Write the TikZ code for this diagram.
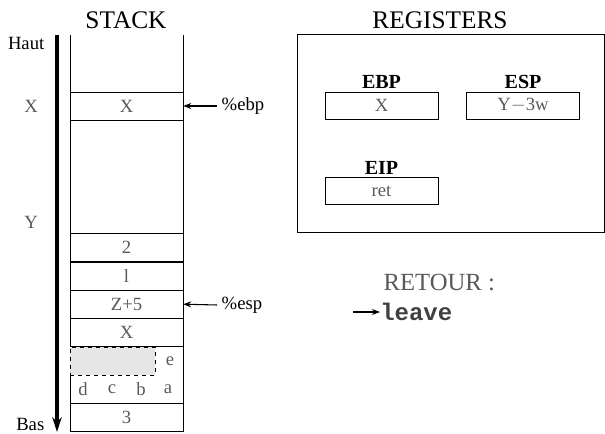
\documentclass[tikz,border=0pt]{standalone}
\usepackage{fontspec}
\setmainfont{Liberation Serif}
\setmonofont{Liberation Mono}
\usetikzlibrary{positioning, arrows.meta}
\tikzset{
    x=0.75pt, y=-0.75pt, % one unit is one pixel, y grows downwards
    cell/.style={draw, minimum width=84.75pt, minimum height=21.2pt, inner sep=0pt,
                 text=black!65, font=\fontsize{14}{16}\selectfont}, % a word of the stack
    reg/.style={cell, minimum height=20.3pt}, % a register box
    title/.style={font=\fontsize{19}{21}\selectfont}, % headings
    lab/.style={font=\fontsize{14}{16}\selectfont}, % side labels
    dim/.style={text=black!65, font=\fontsize{14}{16}\selectfont}, % gray side values
    ptr/.style={{Stealth[length=6pt,width=4.5pt]}-, line width=0.8pt}, % register pointers
}

\begin{document}
\begin{tikzpicture}
    \useasboundingbox (0,0) rectangle (605,434);
    \node[title] at (126,20) {STACK};
    \node[title] at (440,20) {REGISTERS};

    % growth arrow
    \coordinate (top) at (57,35);
    \coordinate (bot) at (57,432);
    \draw[line width=2.4pt, -{Stealth[length=11pt,width=7pt]}] (top) -- (bot);
    \node[lab, anchor=east] at (49,43) {Haut};
    \node[lab, anchor=east] at (49,424) {Bas};
    \node[dim] at (31,106) {X};
    \node[dim] at (31,222) {Y};

    % the stack
    \node[draw, dashed, fill=gray!20, minimum width=63.75pt, minimum height=21.2pt,
          inner sep=0pt] (pad) at (112.5,361) {};
    \draw (70,347) -- (70,35) (70,375) -- (70,431.7) -- (183,431.7) -- (183,35);
    \node[cell] (sX) at (126.5,106) {X};
    \node[cell] (s2) at (126.5,247.6) {2};
    \node[cell] (sl) at (126.5,275.9) {l};
    \node[cell] (sZ) at (126.5,304.2) {Z+5};
    \node[cell] (sX2) at (126.5,332.5) {X};
    \node[cell] (s3) at (126.5,417.5) {3};
    \node[dim] (e) at (170,361) {e};
    \node[dim] (d) at (83,389) {d};
    \node[dim] (c) at (112,389) {c};
    \node[dim] (b) at (141,389) {b};
    \node[dim] (a) at (168,389) {a};

    \node[lab, anchor=west] (ebp) at (217,106) {\%ebp};
    \node[lab, anchor=west] (esp) at (217,305) {\%esp};
    \draw[ptr] (sX.east) -- (ebp.west);
    \draw[ptr] (sZ.east) -- (esp.west);

    % registers
    \draw (297,34.3) rectangle (604.3,232.3);
    \node[reg] (rEBP) at (381.5,105.5) {X};
    \node[reg] (rESP) at (523,105.5) {Y$-$3w};
    \node[reg] (rEIP) at (381.5,191) {ret};
    \node[lab, anchor=south, inner sep=2pt, font=\bfseries\fontsize{15}{17}\selectfont] at (rEBP.north) {EBP};
    \node[lab, anchor=south, inner sep=2pt, font=\bfseries\fontsize{15}{17}\selectfont] at (rESP.north) {ESP};
    \node[lab, anchor=south, inner sep=2pt, font=\bfseries\fontsize{15}{17}\selectfont] at (rEIP.north) {EIP};

    % next instruction
    \node[dim, anchor=west, font=\fontsize{18.5}{20}\selectfont] at (379,283) {RETOUR :};
    \node[anchor=west, inner sep=0pt, font=\ttfamily\bfseries\fontsize{18}{20}\selectfont, text=black!75] (leave) at (380,312) {leave};
    \coordinate (ip) at (353,312);
    \draw[-{Stealth[length=6pt,width=4.5pt]}, line width=0.8pt] (ip) -- (leave.west);
\end{tikzpicture}
\end{document}
